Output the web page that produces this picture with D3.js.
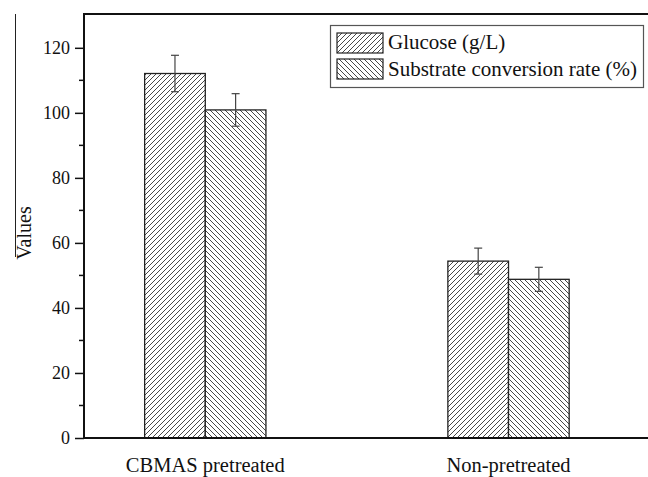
<!DOCTYPE html>
<html>
<head>
<meta charset="utf-8">
<script src="https://cdn.jsdelivr.net/npm/d3@7"></script>
<style>
  body { margin: 0; background: #fff; }
  svg text { font-family: "Liberation Serif", "Times New Roman", serif; }
</style>
</head>
<body>
<svg id="chart"></svg>
<script>
var w = 648;
var h = 477;

var categories = ["CBMAS pretreated", "Non-pretreated"];
var seriesNames = ["Glucose (g/L)", "Substrate conversion rate (%)"];
var glucose = [112.1, 54.4];
var glucoseErr = [5.6, 4.0];
var conversion = [100.9, 48.8];
var conversionErr = [5.0, 3.7];
var yTicks = [0, 20, 40, 60, 80, 100, 120];

var svg = d3.select("#chart")
  .attr("width", w)
  .attr("height", h)
  .attr("viewBox", [0, 0, w, h]);

var left = 84, topY = 14, bottom = 438;

var y = d3.scaleLinear().domain([0, 130.4]).range([bottom, topY]);
// groups sit at 1 and 2 on a linear x scale
var x = d3.scaleLinear().domain([0.6, 2.46]).range([left, w]);
var barW = x(1.2) - x(1);

// hatch patterns
var defs = svg.append("defs");
function hatch(id, dir) {
  var p = defs.append("pattern")
    .attr("id", id)
    .attr("patternUnits", "userSpaceOnUse")
    .attr("width", 5).attr("height", 5);
  p.append("rect").attr("width", 5).attr("height", 5).attr("fill", "#fff");
  var d = dir > 0
    ? "M-1,1 l2,-2 M0,5 l5,-5 M4,6 l2,-2"
    : "M-1,4 l2,2 M0,0 l5,5 M4,-1 l2,2";
  p.append("path").attr("d", d)
    .attr("stroke", "#333").attr("stroke-width", 0.9);
}
hatch("fwd", 1);
hatch("back", -1);

// stray line at left edge of the figure
svg.append("line")
  .attr("x1", 15.5).attr("x2", 15.5).attr("y1", 14).attr("y2", 257)
  .attr("stroke", "#222").attr("stroke-width", 1);

var series = [
  {vals: glucose, errs: glucoseErr, fill: "url(#fwd)", off: 0},
  {vals: conversion, errs: conversionErr, fill: "url(#back)", off: 0.2}
];

series.forEach(function (s) {
  var g = svg.append("g");
  g.selectAll("rect")
    .data(s.vals)
    .enter()
    .append("rect")
    .attr("x", (d, i) => x(i + 1 - 0.2 + s.off))
    .attr("y", d => y(d))
    .attr("width", barW)
    .attr("height", d => y(0) - y(d))
    .attr("fill", s.fill)
    .attr("stroke", "#222")
    .attr("stroke-width", 1.3);

  // error bars
  s.vals.forEach(function (v, i) {
    var cx = x(i + 1 - 0.1 + s.off);
    var e = s.errs[i];
    var eg = g.append("g").attr("stroke", "#444").attr("stroke-width", 1.2);
    eg.append("line").attr("x1", cx).attr("x2", cx).attr("y1", y(v + e)).attr("y2", y(v - e));
    eg.append("line").attr("x1", cx - 4).attr("x2", cx + 4).attr("y1", y(v + e)).attr("y2", y(v + e));
    eg.append("line").attr("x1", cx - 4).attr("x2", cx + 4).attr("y1", y(v - e)).attr("y2", y(v - e));
  });
});

// y axis with minor ticks
var yAxis = d3.axisLeft(y).tickValues(yTicks).tickSize(9).tickPadding(5);
var ax = svg.append("g").attr("transform", "translate(" + left + ",0)").call(yAxis);
ax.select(".domain").remove();
ax.selectAll("line").attr("stroke", "#111").attr("stroke-width", 1.5);
ax.selectAll("text")
  .style("font-family", "'Liberation Serif', serif")
  .style("font-size", "18px")
  .attr("fill", "#111");

var minor = d3.range(10, 130, 20);
svg.append("g").selectAll("line")
  .data(minor).enter().append("line")
  .attr("x1", left - 5).attr("x2", left)
  .attr("y1", d => y(d)).attr("y2", d => y(d))
  .attr("stroke", "#111").attr("stroke-width", 1.5);

// frame lines
svg.append("line").attr("x1", left).attr("x2", left).attr("y1", topY).attr("y2", bottom)
  .attr("stroke", "#111").attr("stroke-width", 2);
svg.append("line").attr("x1", left - 1).attr("x2", w).attr("y1", topY).attr("y2", topY)
  .attr("stroke", "#111").attr("stroke-width", 2);
svg.append("line").attr("x1", left - 1).attr("x2", w).attr("y1", bottom).attr("y2", bottom)
  .attr("stroke", "#111").attr("stroke-width", 2);

// category labels
svg.append("g").selectAll("text")
  .data(categories).enter().append("text")
  .attr("x", (d, i) => x(i + 1))
  .attr("y", 472)
  .attr("text-anchor", "middle")
  .style("font-size", "20.5px")
  .attr("fill", "#111")
  .text(d => d);

// y title
svg.append("text")
  .attr("transform", "translate(31,233) rotate(-90)")
  .attr("text-anchor", "middle")
  .style("font-size", "20px")
  .attr("fill", "#111")
  .text("Values");

// legend
var lg = svg.append("g");
lg.append("rect")
  .attr("x", 330.5).attr("y", 25.5).attr("width", 313).attr("height", 62)
  .attr("fill", "#fff").attr("stroke", "#555").attr("stroke-width", 1.2);
var fills = ["url(#fwd)", "url(#back)"];
seriesNames.forEach(function (name, i) {
  lg.append("rect")
    .attr("x", 337).attr("y", 33 + i * 26).attr("width", 46).attr("height", 20)
    .attr("fill", fills[i]).attr("stroke", "#222").attr("stroke-width", 1.2);
  lg.append("text")
    .attr("x", 388).attr("y", 49 + i * 27)
    .style("font-size", "21px")
    .attr("fill", "#111")
    .text(name);
});
</script>
</body>
</html>
